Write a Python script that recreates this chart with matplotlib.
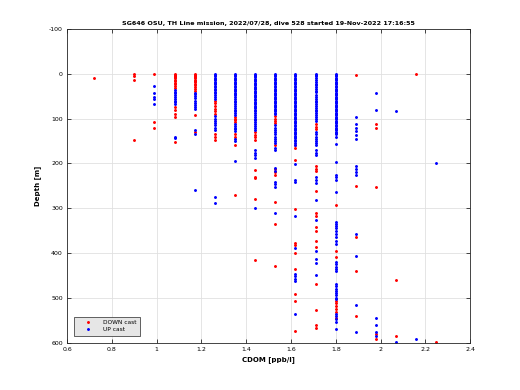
import numpy as np
import matplotlib
matplotlib.use('Agg')
import matplotlib.pyplot as plt

plt.rcParams['axes.unicode_minus'] = False

# CDOM bins (ppb/l) seen in the plot
cdom_levels = [0.72, 0.90, 0.99, 1.08, 1.17, 1.26, 1.35, 1.44, 1.53, 1.62,
               1.71, 1.80, 1.89, 1.98, 2.07, 2.16, 2.25]

# depths [m] for each CDOM bin, down cast
down_depths = [
    [10],
    [0, 4, 14, 148],
    [0, 108, 120],
    [0, 2, 4, 6, 8, 10, 13, 16, 20, 24, 28, 32, 75, 82, 90, 97, 152],
    [0, 2, 4, 7, 10, 13, 16, 19, 22, 26, 30, 34, 38, 93, 130],
    [60, 66, 72, 78, 84, 90, 135, 142, 148],
    [96, 100, 104, 108, 135, 140, 158, 271],
    [130, 136, 142, 147, 215, 230, 233, 279, 415],
    [95, 100, 105, 110, 160, 213, 220, 226, 286, 334, 428],
    [160, 166, 193, 302, 378, 383, 400, 435, 491, 506, 573],
    [112, 118, 124, 205, 212, 218, 262, 311, 317, 342, 350, 373, 387, 469,
     527, 560, 567],
    [293, 395, 408, 506, 512, 518, 524, 531, 545],
    [2, 250, 365, 441, 540],
    [113, 120, 253, 580, 592],
    [460, 585],
    [0],
    [598],
]

# depths [m] for each CDOM bin, up cast
up_depths = [
    [],
    [],
    [28, 43, 52, 56, 67],
    [36, 40, 44, 48, 52, 56, 60, 64, 68, 140, 144],
    [42, 46, 50, 55, 60, 65, 70, 75, 78, 126, 134, 259],
    [0, 3, 6, 9, 12, 15, 18, 21, 24, 27, 30, 33, 36, 40, 44, 48, 52, 56,
     95, 100, 105, 110, 115, 120, 125, 274, 289],
    [0, 3, 6, 9, 12, 15, 18, 21, 24, 27, 30, 33, 36, 39, 42, 45, 48, 52, 56,
     60, 64, 68, 72, 76, 80, 84, 88, 92, 112, 116, 120, 124, 128, 145, 150,
     195],
    [0, 3, 5, 8, 11, 14, 17, 20, 23, 26, 29, 32, 35, 38, 41, 44, 47, 50, 53,
     56, 59, 62, 65, 68, 71, 74, 77, 80, 84, 88, 92, 96, 100, 104, 108, 112,
     116, 120, 125, 170, 176, 182, 187, 300],
    [0, 3, 6, 9, 12, 15, 18, 21, 24, 27, 30, 33, 36, 39, 42, 45, 48, 51, 54,
     57, 60, 63, 66, 69, 72, 75, 78, 81, 84, 87, 90, 115, 120, 125, 130, 135,
     140, 145, 150, 155, 165, 170, 211, 216, 241, 246, 252, 310],
    [0, 3, 6, 9, 12, 15, 18, 21, 24, 27, 30, 33, 36, 39, 42, 45, 48, 51, 54,
     57, 60, 63, 66, 69, 72, 75, 78, 81, 84, 87, 90, 93, 96, 99, 102, 105,
     108, 111, 114, 117, 120, 123, 126, 129, 132, 135, 138, 141, 144, 147,
     150, 154, 158, 202, 237, 241, 318, 388, 447, 452, 457, 462, 535],
    [0, 3, 6, 10, 14, 18, 22, 26, 30, 34, 38, 41, 48, 52, 56, 60, 64, 68, 72,
     76, 80, 84, 88, 92, 96, 100, 105, 130, 135, 140, 145, 150, 155, 160,
     170, 176, 181, 230, 237, 244, 281, 326, 396, 413, 422, 449],
    [0, 3, 6, 9, 12, 15, 18, 21, 24, 27, 30, 33, 36, 39, 42, 45, 48, 51, 54,
     57, 60, 63, 66, 69, 72, 75, 78, 81, 84, 87, 90, 93, 96, 99, 102, 105,
     108, 111, 114, 117, 120, 123, 126, 129, 132, 135, 140, 156, 196, 226,
     231, 237, 263, 331, 335, 340, 344, 351, 358, 365, 372, 380, 420, 425,
     430, 435, 440, 469, 474, 479, 484, 489, 494, 499, 502, 535, 540, 546,
     553, 569],
    [97, 112, 120, 128, 136, 145, 206, 212, 219, 225, 358, 406, 516, 576],
    [42, 82, 545, 561, 576, 584],
    [84, 598],
    [592],
    [198],
]

title = 'SG646 OSU, TH Line mission, 2022/07/28, dive 528 started 19-Nov-2022 17:16:55'

x_dn, y_dn, x_up, y_up = [], [], [], []
for c, dd, uu in zip(cdom_levels, down_depths, up_depths):
    x_dn += [c] * len(dd)
    y_dn += dd
    x_up += [c] * len(uu)
    y_up += uu

fig = plt.figure(figsize=(5.2, 3.9), dpi=100)
ax = fig.add_axes([0.129, 0.121, 0.775, 0.805])

ax.plot(x_dn, y_dn, '.', color='red', markersize=2.2, label='DOWN cast')
ax.plot(x_up, y_up, '.', color='blue', markersize=2.2, label='UP cast')

ax.set_xlim(0.6, 2.4)
ax.set_ylim(600, -100)
ax.set_xticks(np.arange(0.6, 2.41, 0.2))
ax.set_xticklabels(['0.6', '0.8', '1', '1.2', '1.4', '1.6', '1.8', '2', '2.2', '2.4'])
ax.set_yticks(np.arange(-100, 601, 100))
ax.grid(True, color='#e0e0e0', linewidth=0.6)
ax.set_axisbelow(True)
ax.tick_params(direction='in', top=True, right=True, labelsize=4.5,
               length=3, width=0.5, pad=3)
for s in ax.spines.values():
    s.set_linewidth(0.6)
    s.set_color('#262626')

ax.set_xlabel('CDOM [ppb/l]', fontsize=5, fontweight='bold', labelpad=3)
ax.set_ylabel('Depth [m]', fontsize=5, fontweight='bold', labelpad=6)
ax.set_title(title, fontsize=4.6, fontweight='bold', pad=3)

leg = ax.legend(loc='lower left', fontsize=4.2, frameon=True, fancybox=False,
                edgecolor='#262626', facecolor='#e6e6e6', framealpha=1,
                markerscale=1.0, borderaxespad=1.2, handlelength=3.5,
                borderpad=0.6, labelspacing=0.3)
leg.get_frame().set_linewidth(0.5)

fig.savefig('out.png', dpi=100)
